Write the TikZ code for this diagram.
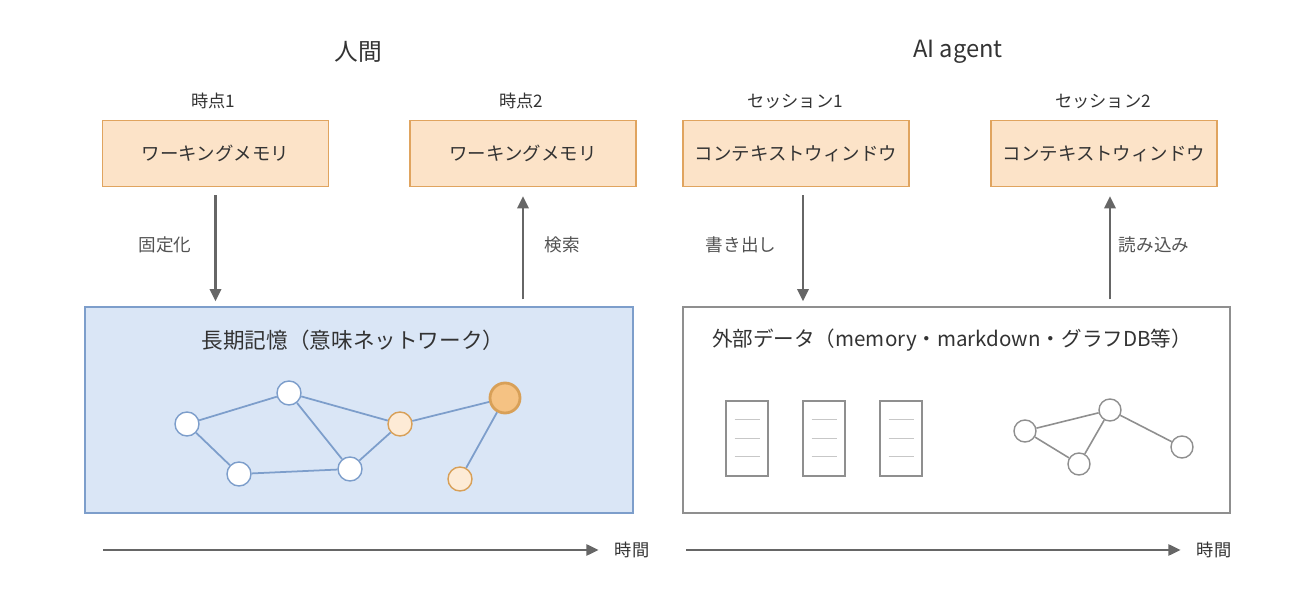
\documentclass[tikz,border=0pt]{standalone}
\usepackage{fontspec}
\setmainfont{Noto Sans CJK JP}
\usetikzlibrary{arrows.meta,positioning}
\definecolor{peachfill}{HTML}{FCE3C8}
\definecolor{peachline}{HTML}{E0A45F}
\definecolor{bluefill}{HTML}{DAE6F6}
\definecolor{blueline}{HTML}{7D9ECB}
\definecolor{txtgray}{HTML}{333333}
\definecolor{arrgray}{HTML}{666666}
\definecolor{boxgray}{HTML}{8F8F8F}
\definecolor{lightorange}{HTML}{FDEBD6}
\definecolor{darkorange}{HTML}{F5C283}
\definecolor{orangeline}{HTML}{D8A058}

\begin{document}
\begin{tikzpicture}[x=0.02cm,y=-0.02cm,text=txtgray]
\useasboundingbox (0,0) rectangle (1299,590);
%styles
\tikzstyle{title}=[font=\fontsize{13.5}{16}\selectfont]
\tikzstyle{stage}=[font=\fontsize{9.8}{11}\selectfont]
\tikzstyle{wbox}=[draw=peachline, fill=peachfill, line width=0.8pt, minimum width=4.52cm, minimum height=1.32cm, font=\fontsize{10.5}{12}\selectfont]
\tikzstyle{flow}=[draw=arrgray, line width=1.2pt, -{Triangle[length=7pt,width=6.5pt]}]
\tikzstyle{flowlabel}=[font=\fontsize{10}{12}\selectfont, text=txtgray!85]
\tikzstyle{mem}=[circle, draw=blueline, fill=white, line width=0.8pt, minimum size=0.48cm, inner sep=0pt]
\tikzstyle{link}=[draw=blueline, line width=1pt]
\tikzstyle{gnode}=[circle, draw=boxgray, fill=white, line width=0.8pt, minimum size=0.44cm, inner sep=0pt]
\tikzstyle{glink}=[draw=boxgray, line width=0.9pt]
\tikzstyle{doc}=[draw=boxgray, fill=white, line width=0.7pt, minimum width=0.84cm, minimum height=1.5cm]

% headings
\node[title](human) at (358,52) {人間};
\node[title](agent) at (958,52) {AI agent};

% human side
\node[wbox](wm1) at (215.5,153.5) {ワーキングメモリ};
\node[wbox](wm2) at (523,153.5) {ワーキングメモリ};
\node[stage](t1) at (213,101) {時点1};
\node[stage](t2) at (521,101) {時点2};
\node[draw=blueline, fill=bluefill, line width=0.8pt, minimum width=10.96cm, minimum height=4.12cm](ltm) at (359,410) {};
\node[font=\fontsize{12.3}{14}\selectfont](ltmtitle) at (353,340) {長期記憶（意味ネットワーク）};
\draw[flow, shorten <=0.16cm, shorten >=0.1cm] (wm1.south) -- (wm1.south |- ltm.north);
\draw[flow, shorten <=0.14cm, shorten >=0.18cm] (wm2.south |- ltm.north) -- (wm2.south);
\node[flowlabel](fix) at (165,245) {固定化};
\node[flowlabel](search) at (562,245) {検索};

% semantic network
\node[mem](a) at (187,424) {};
\node[mem](b) at (289,393) {};
\node[mem](c) at (239,474) {};
\node[mem](d) at (350,469) {};
\node[mem, draw=orangeline, fill=lightorange](e) at (400,424) {};
\node[mem, draw=orangeline, fill=darkorange, line width=1.6pt, minimum size=0.6cm](f) at (505,398) {};
\node[mem, draw=orangeline, fill=lightorange](g) at (460,479) {};
\draw[link] (a) -- (b);
\draw[link] (a) -- (c);
\draw[link] (b) -- (d);
\draw[link] (b) -- (e);
\draw[link] (c) -- (d);
\draw[link] (d) -- (e);
\draw[link] (e) -- (f);
\draw[link] (f) -- (g);

% agent side
\node[wbox](cw1) at (796,153.5) {コンテキストウィンドウ};
\node[wbox](cw2) at (1104,153.5) {コンテキストウィンドウ};
\node[stage](s1) at (795,101) {セッション1};
\node[stage](s2) at (1103,101) {セッション2};
\node[draw=boxgray, fill=white, line width=0.8pt, minimum width=10.94cm, minimum height=4.12cm](ext) at (956.5,410) {};
\node[font=\fontsize{11.7}{14}\selectfont, anchor=west](exttitle) at (706,340) {外部データ（memory・markdown・グラフDB等）};
\draw[flow, shorten <=0.16cm, shorten >=0.1cm] ([xshift=0.14cm]cw1.south) -- ([xshift=0.14cm]cw1.south |- ext.north);
\draw[flow, shorten <=0.14cm, shorten >=0.18cm] ([xshift=0.12cm]cw2.south |- ext.north) -- ([xshift=0.12cm]cw2.south);
\node[flowlabel](write) at (741,245) {書き出し};
\node[flowlabel](read) at (1154,245) {読み込み};

% documents
\foreach \dx/\name in {747/doca, 824/docb, 901/docc} {
  \node[doc](\name) at (\dx,438.5) {};
  \foreach \ly in {-19,0,18}
    \draw[black!22, line width=1pt] ([xshift=-0.25cm, yshift=-\ly*0.02cm]\name.center) -- ([xshift=0.25cm, yshift=-\ly*0.02cm]\name.center);
}

% graph db
\node[gnode](p) at (1025,431) {};
\node[gnode](q) at (1110,410) {};
\node[gnode](r) at (1079,464) {};
\node[gnode](s) at (1182,447) {};
\draw[glink] (p) -- (q);
\draw[glink] (p) -- (r);
\draw[glink] (q) -- (r);
\draw[glink] (q) -- (s);

% time axes
\coordinate (ax1) at (103,550);
\coordinate (ax2) at (686,550);
\node[stage](time1) at (632,550) {時間};
\node[stage](time2) at (1214,550) {時間};
\draw[flow, line width=1pt] (ax1) -- ([xshift=-0.2cm]time1.west);
\draw[flow, line width=1pt] (ax2) -- ([xshift=-0.2cm]time2.west);
\end{tikzpicture}
\end{document}
